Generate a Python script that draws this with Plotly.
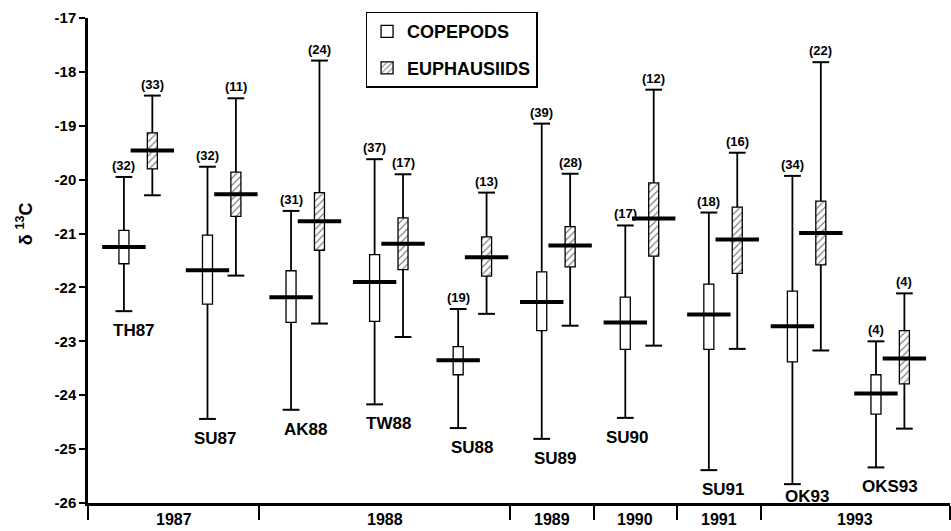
import plotly.graph_objects as go

# ---------------- data ----------------
cruises = ["TH87", "SU87", "AK88", "TW88", "SU88", "SU89", "SU90", "SU91", "OK93", "OKS93"]
years = ["1987", "1987", "1988", "1988", "1988", "1989", "1990", "1991", "1993", "1993"]

cop_n = [32, 32, 31, 37, 19, 39, 17, 18, 34, 4]
cop_max = [-19.95, -19.76, -20.58, -19.62, -22.40, -18.96, -20.85, -20.61, -19.93, -23.00]
cop_q3 = [-20.94, -21.03, -21.69, -21.39, -23.10, -21.71, -22.18, -21.94, -22.07, -23.62]
cop_mid = [-21.25, -21.68, -22.18, -21.90, -23.35, -22.27, -22.65, -22.50, -22.72, -23.97]
cop_q1 = [-21.56, -22.31, -22.65, -22.63, -23.62, -22.80, -23.15, -23.15, -23.38, -24.35]
cop_min = [-22.44, -24.44, -24.27, -24.17, -24.61, -24.81, -24.42, -25.39, -25.65, -25.34]

eup_n = [33, 11, 24, 17, 13, 28, 12, 16, 22, 4]
eup_max = [-18.44, -18.49, -17.79, -19.90, -20.24, -19.89, -18.33, -19.50, -17.82, -22.11]
eup_q3 = [-19.13, -19.86, -20.24, -20.71, -21.06, -20.87, -20.06, -20.51, -20.40, -22.80]
eup_mid = [-19.46, -20.27, -20.77, -21.19, -21.44, -21.22, -20.72, -21.11, -20.99, -23.32]
eup_q1 = [-19.80, -20.68, -21.31, -21.67, -21.79, -21.62, -21.42, -21.74, -21.58, -23.79]
eup_min = [-20.29, -21.78, -22.67, -22.92, -22.49, -22.71, -23.08, -23.14, -23.17, -24.62]

y_ticks = [-26, -25, -24, -23, -22, -21, -20, -19, -18, -17]
y_tick_text = ["-26", "-25", "-24", "-23", "-22", "-21", "-20", "-19", "-18", "-17"]

# ---------------- layout / style ----------------
FONT = "Liberation Sans, Arial, sans-serif"
OFF = 0.17          # half distance between the two boxes of a cruise
BOX_W = 0.12
X_RANGE = [-0.60, 9.716]
DIV_SHIFT = -0.05
# per-label placement tweaks for cruise labels (pixels)
label_yshift = {"OK93": -1}
label_xshift = {"SU90": -12, "TH87": -4, "SU87": -6}

idx = list(range(len(cruises)))
x_cop = [i - OFF for i in idx]
x_eup = [i + OFF for i in idx]

fig = go.Figure()


def add_series(xs, vmin, vq1, vmid, vq3, vmax, name, pattern):
    # box
    fig.add_trace(go.Bar(
        x=xs, base=vq1, y=[b - a for a, b in zip(vq1, vq3)], width=BOX_W,
        name=name, legendgroup=name,
        marker=dict(color="white", line=dict(color="black", width=1.3), pattern=pattern),
        hoverinfo="skip",
    ))
    # whiskers
    wx, wy = [], []
    for x, a, b, c, d in zip(xs, vmin, vq1, vq3, vmax):
        wx += [x, x, None, x, x, None]
        wy += [a, b, None, c, d, None]
    fig.add_trace(go.Scatter(x=wx, y=wy, mode="lines", line=dict(color="black", width=1.8),
                             showlegend=False, hoverinfo="skip"))
    # caps
    fig.add_trace(go.Scatter(x=xs + xs, y=vmin + vmax, mode="markers",
                             marker=dict(symbol="line-ew", size=12, line=dict(color="black", width=2)),
                             showlegend=False, hoverinfo="skip"))
    # mean / median bar
    fig.add_trace(go.Scatter(x=xs, y=vmid, mode="markers",
                             marker=dict(symbol="line-ew", size=31, line=dict(color="black", width=4)),
                             showlegend=False, hoverinfo="skip"))


add_series(x_cop, cop_min, cop_q1, cop_mid, cop_q3, cop_max, "COPEPODS", dict(shape=""))
add_series(x_eup, eup_min, eup_q1, eup_mid, eup_q3, eup_max, "EUPHAUSIIDS",
           dict(shape="/", fgcolor="black", bgcolor="white", size=5, solidity=0.25))

annotations = []
# sample counts above whiskers
for xs, vmax, ns in ((x_cop, cop_max, cop_n), (x_eup, eup_max, eup_n)):
    for x, v, n in zip(xs, vmax, ns):
        annotations.append(dict(x=x, y=v, xref="x", yref="y", text=f"<b>({n})</b>", showarrow=False,
                                yanchor="bottom", yshift=2,
                                font=dict(family=FONT, size=13, color="black")))
# cruise labels under copepod whiskers
for i, c in enumerate(cruises):
    annotations.append(dict(x=i, y=cop_min[i], xref="x", yref="y", text=f"<b>{c}</b>", showarrow=False,
                            yanchor="top", yshift=label_yshift.get(c, -8), xshift=label_xshift.get(c, 0),
                            font=dict(family=FONT, size=17, color="black")))

# year groups along the x axis
groups = []
for i, y in enumerate(years):
    if groups and groups[-1][0] == y:
        groups[-1][2] = i
    else:
        groups.append([y, i, i])
dividers = [g[2] + 0.5 + DIV_SHIFT for g in groups[:-1]]
edges = [X_RANGE[0]] + dividers + [X_RANGE[1]]
for k, g in enumerate(groups):
    annotations.append(dict(x=(edges[k] + edges[k + 1]) / 2, y=-26, xref="x", yref="y",
                            text=f"<b>{g[0]}</b>", showarrow=False, yanchor="top", yshift=-6,
                            font=dict(family=FONT, size=16, color="black")))

# y-axis title
annotations.append(dict(x=-0.074, y=0.575, xref="paper", yref="paper", text="<b>δ <sup>13</sup>C</b>",
                        showarrow=False, textangle=-90, xanchor="center", yanchor="middle",
                        font=dict(family=FONT, size=18, color="black")))

fig.update_layout(
    width=951, height=531,
    margin=dict(l=88, r=1, t=18, b=28, autoexpand=False),
    paper_bgcolor="white", plot_bgcolor="white",
    barmode="overlay",
    showlegend=True,
    legend=dict(x=0.322, y=1.013, xanchor="left", yanchor="top",
                bordercolor="black", borderwidth=1.5, bgcolor="white",
                font=dict(family=FONT, size=18, color="black", weight="bold"),
                tracegroupgap=10, itemwidth=30),
    annotations=annotations,
    xaxis=dict(range=X_RANGE, showgrid=False, zeroline=False, showline=True,
               linecolor="black", linewidth=2.5,
               tickmode="array", tickvals=[X_RANGE[0] + 0.005] + dividers + [X_RANGE[1] - 0.005],
               showticklabels=False,
               ticks="outside", ticklen=14, tickwidth=2, tickcolor="black"),
    yaxis=dict(range=[-26, -17], showgrid=False, zeroline=False, showline=True,
               linecolor="black", linewidth=2.5,
               tickmode="array", tickvals=y_ticks, ticktext=[f"<b>{t}</b>" for t in y_tick_text],
               ticks="outside", ticklen=6, tickwidth=2, tickcolor="black",
               tickfont=dict(family=FONT, size=15, color="black")),
)

fig.write_html("out.html", config={"displayModeBar": False},
               post_script="document.body.style.margin='0';document.body.style.overflow='hidden';")
